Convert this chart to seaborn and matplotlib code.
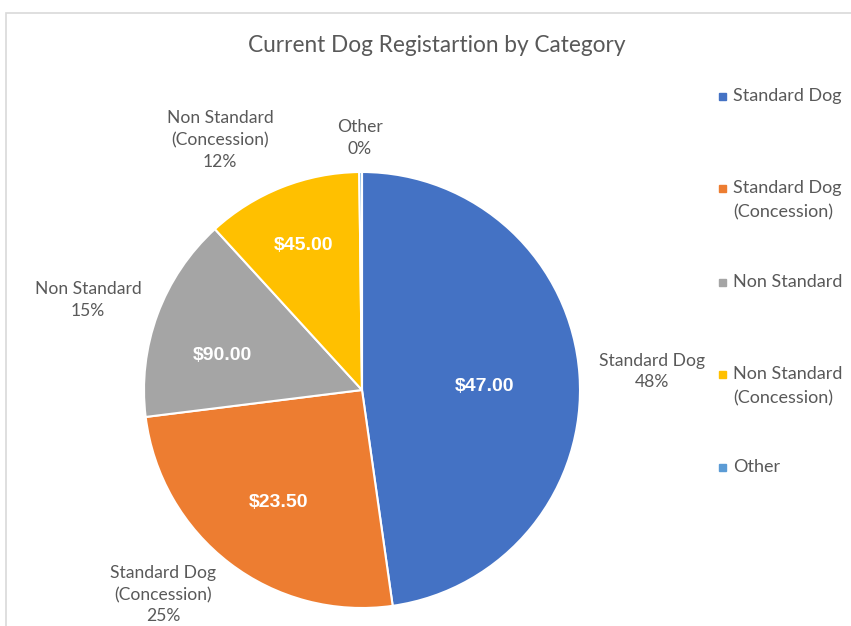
import seaborn as sns
import matplotlib.pyplot as plt
from matplotlib.patches import Rectangle

# data
categories = ['Standard Dog', 'Standard Dog\n(Concession)', 'Non Standard',
              'Non Standard\n(Concession)', 'Other']
shares = [47.8, 25.3, 15.2, 11.6, 0.2]
fees = ['$47.00', '$23.50', '$90.00', '$45.00', '']
colors = ['#4472C4', '#ED7D31', '#A5A5A5', '#FFC000', '#5B9BD5']

sns.set_theme(style='white')
plt.rcParams['font.family'] = ['Lato', 'DejaVu Sans']

fig = plt.figure(figsize=(8.51, 6.26), dpi=100)
ax = fig.add_axes([0, 0, 1, 1])

wedges, _ = ax.pie(shares, colors=colors, startangle=90, counterclock=False,
                   radius=1, wedgeprops=dict(edgecolor='white', linewidth=1.5))

# pixel mapping: centre at (362, 390) from top-left, radius 218 px
scale = 218
ax.set_xlim(-362 / scale, (851 - 362) / scale)
ax.set_ylim(-(626 - 390) / scale, 390 / scale)
ax.set_aspect('auto')
ax.axis('off')

total = sum(shares)
outer_pos = [(1.33, 0.085), (-0.913, -0.94), (-1.257, 0.413), (-0.651, 1.147), (-0.01, 1.156)]
inner_pos = [(0.56, 0.018), (-0.385, -0.518), (-0.642, 0.156), (-0.266, 0.665), (0, 0)]
for name, val, fee, op, ip in zip(categories, shares, fees, outer_pos, inner_pos):
    ax.text(op[0], op[1], f'{name}\n{val / total * 100:.0f}%', ha='center', va='center',
            fontsize=12.6, color='#595959', linespacing=1.42)
    if fee:
        ax.text(ip[0], ip[1], fee, ha='center', va='center', fontsize=14,
                color='white', fontweight='bold', family='Liberation Sans')

fig.text(437 / 851, 1 - 45 / 626, 'Current Dog Registartion by Category',
         ha='center', va='center', fontsize=16.3, color='#595959')

# legend drawn Excel style, marker aligned with first line
legend_y = [96, 188, 282, 374, 467]
for name, c, y in zip(categories, colors, legend_y):
    fig.patches.append(Rectangle((719 / 851, 1 - (y + 4) / 626), 7 / 851, 7 / 626,
                                 transform=fig.transFigure, color=c))
    fig.text(733 / 851, 1 - (y - 8) / 626, name, ha='left', va='top',
             fontsize=13, color='#595959', linespacing=1.6)

# chart area border
fig.patches.append(Rectangle((6 / 851, -0.1), 1.2, 1 - 13 / 626 + 0.1,
                             transform=fig.transFigure, fill=False,
                             edgecolor='#D9D9D9', linewidth=1.2))

fig.savefig('out.png', dpi=100)
